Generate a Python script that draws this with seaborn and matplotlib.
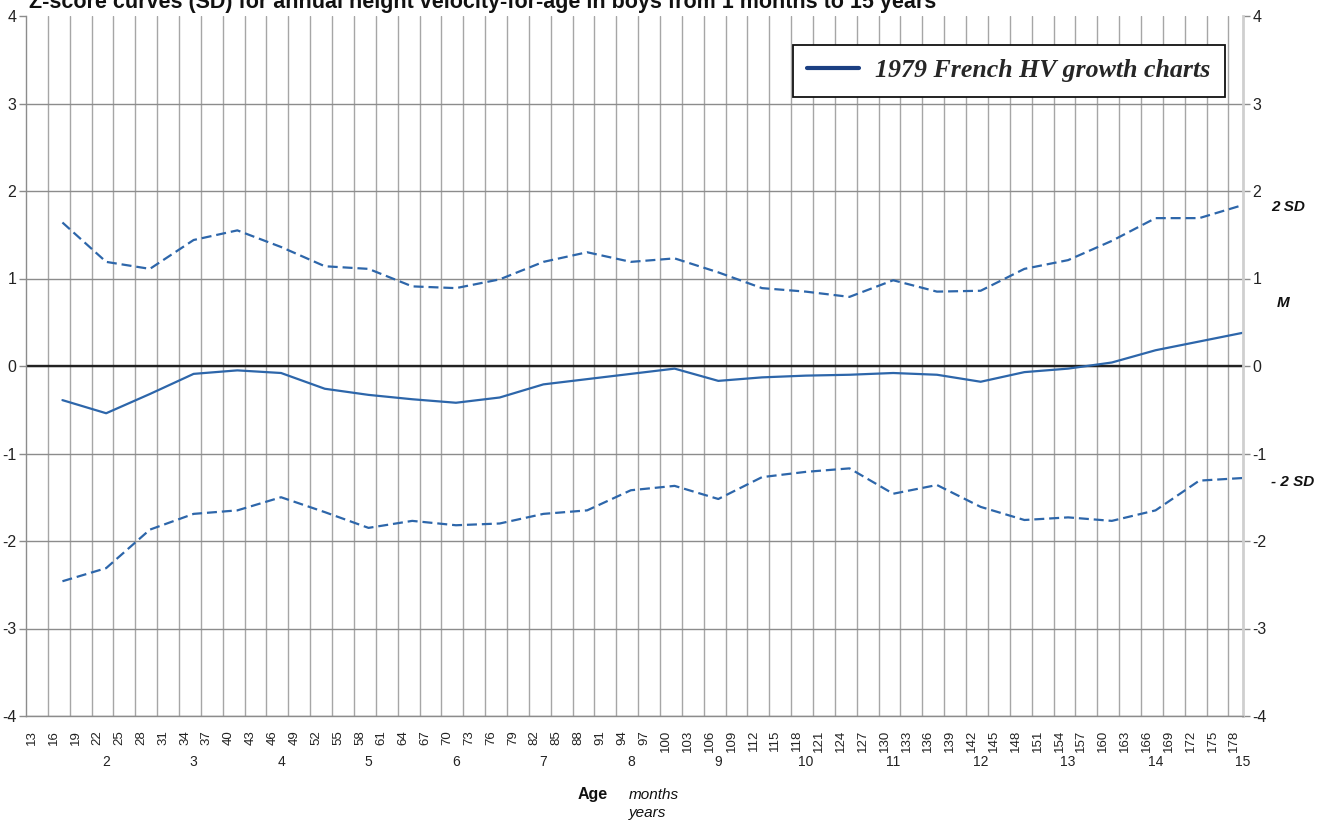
import matplotlib
matplotlib.use("Agg")
import matplotlib.pyplot as plt
import matplotlib.transforms as mtransforms
from matplotlib.lines import Line2D
import numpy as np
import pandas as pd
import seaborn as sns

# ---------------- data ----------------
months = [18, 24, 30, 36, 42, 48, 54, 60, 66, 72, 78, 84, 90, 96, 102, 108,
          114, 120, 126, 132, 138, 144, 150, 156, 162, 168, 174, 180]
upper_2sd = [1.64, 1.19, 1.11, 1.44, 1.55, 1.36, 1.14, 1.11, 0.91, 0.89, 0.99, 1.19,
             1.30, 1.19, 1.23, 1.07, 0.89, 0.85, 0.79, 0.98, 0.85, 0.86, 1.11, 1.21,
             1.43, 1.69, 1.69, 1.84]
median_m = [-0.39, -0.54, -0.32, -0.09, -0.05, -0.08, -0.26, -0.33, -0.38, -0.42, -0.36, -0.21,
            -0.15, -0.09, -0.03, -0.17, -0.13, -0.11, -0.10, -0.08, -0.10, -0.18, -0.07, -0.03,
            0.04, 0.18, 0.28, 0.38]
lower_2sd = [-2.46, -2.31, -1.87, -1.69, -1.65, -1.50, -1.67, -1.85, -1.77, -1.82, -1.80, -1.69,
             -1.65, -1.42, -1.37, -1.52, -1.27, -1.21, -1.17, -1.46, -1.36, -1.61, -1.76, -1.73,
             -1.77, -1.65, -1.31, -1.28]
month_ticks = list(range(13, 179, 3))
year_ticks = list(range(2, 16))
y_ticks = [-4, -3, -2, -1, 0, 1, 2, 3, 4]

title = "Z-score curves (SD) for annual height velocity-for-age in boys from 1 months to 15 years"
legend_label = "1979 French HV growth charts"

# ---------------- figure ----------------
sns.set_style("white")
plt.rcParams['font.family'] = ['Liberation Sans', 'DejaVu Sans']

fig = plt.figure(figsize=(13.32, 8.23), dpi=100)
ax = fig.add_axes([26/1332, 1 - 716/823, (1243-26)/1332, (716-16)/823])

line_color = '#2d66aa'
df = pd.DataFrame({'month': months, 'up': upper_2sd, 'm': median_m, 'lo': lower_2sd})

sns.lineplot(data=df, x='month', y='up', ax=ax, color=line_color, lw=1.6,
             linestyle=(0, (4.5, 2.2)))
sns.lineplot(data=df, x='month', y='m', ax=ax, color=line_color, lw=1.6)
sns.lineplot(data=df, x='month', y='lo', ax=ax, color=line_color, lw=1.6,
             linestyle=(0, (4.5, 2.2)))

ax.set_xlim(13, 180)
ax.set_ylim(-4, 4)

# grid
for m in month_ticks[1:]:
    ax.axvline(m, color='#a6a6a6', lw=1.0, zorder=0)
for y in y_ticks[:-1]:
    ax.axhline(y, color='#8c8c8c', lw=1.0, zorder=0)
ax.axhline(0, color='#222222', lw=1.7, zorder=1)

ax.spines['top'].set_visible(False)
ax.spines['left'].set_color('#8c8c8c')
ax.spines['left'].set_linewidth(1.0)
ax.spines['bottom'].set_color('#8c8c8c')
ax.spines['bottom'].set_linewidth(1.0)
ax.spines['right'].set_color('#cfcfcf')
ax.spines['right'].set_linewidth(2.0)

ax.set_xlabel('')
ax.set_ylabel('')

# x ticks (months)
ax.set_xticks(month_ticks)
ax.set_xticklabels([str(m) for m in month_ticks], rotation=90, ha='left',
                   fontsize=9.5, color='#222222')
ax.tick_params(axis='x', length=0, pad=10)

# y ticks both sides
ax.set_yticks(y_ticks)
ax.set_yticklabels([str(v) for v in y_ticks], fontsize=11.5, color='#222222')
ax.tick_params(axis='y', which='both', left=True, right=True, labelleft=True,
               labelright=True, length=5, width=1, color='#8c8c8c', pad=2)

# year labels
trans = mtransforms.blended_transform_factory(ax.transData, fig.transFigure)
for yr in year_ticks:
    ax.text(yr * 12, 1 - 762/823, str(yr), transform=trans, ha='center', va='center',
            fontsize=10, color='#222222')

# axis title
fig.text(593/1332, 1 - 795/823, 'Age', ha='center', va='center', fontsize=11.5,
         fontweight='bold', color='#111111')
fig.text(629/1332, 1 - 795/823, 'months', ha='left', va='center', fontsize=11,
         style='italic', color='#111111')
fig.text(629/1332, 1 - 813/823, 'years', ha='left', va='center', fontsize=11,
         style='italic', color='#111111')

# right annotations
fig.text(1288/1332, 1 - 207/823, '2 SD', ha='center', va='center', fontsize=11,
         fontweight='bold', style='italic', color='#111111')
fig.text(1283/1332, 1 - 303/823, 'M', ha='center', va='center', fontsize=11,
         fontweight='bold', style='italic', color='#111111')
fig.text(1293/1332, 1 - 482/823, '- 2 SD', ha='center', va='center', fontsize=11,
         fontweight='bold', style='italic', color='#111111')

# title (partly clipped at top like the reference)
fig.text(29/1332, 1 - 8/823, title, ha='left', va='baseline', fontsize=15.5,
         fontweight='bold', color='#111111')

# legend
handle = Line2D([], [], color='#1b3f82', lw=3)
leg = ax.legend([handle], [legend_label], loc='upper right',
                bbox_to_anchor=((1225-26)/1217, 1 - (45-16)/700),
                borderaxespad=0, frameon=True, fancybox=False, framealpha=1,
                edgecolor='#111111', handlelength=2.0, handletextpad=0.65,
                borderpad=0.55,
                prop={'family': 'Liberation Serif', 'weight': 'bold',
                      'style': 'italic', 'size': 18.6})
leg.get_frame().set_linewidth(1.3)

fig.savefig('out.png', dpi=100)
